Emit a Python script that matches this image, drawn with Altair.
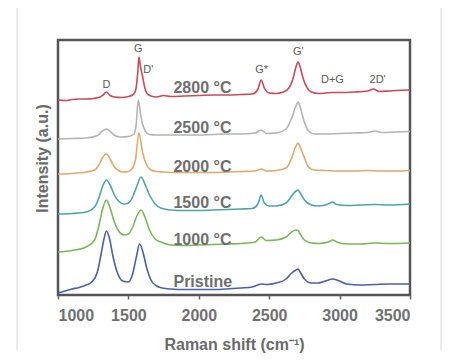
import altair as alt
import pandas as pd

# Bottom edge of plot area (page px) used to express intensities
BASE = 295

red_x = [1000,1050,1100,1150,1200,1250,1300,1320,1344,1370,1400,1450,1500,1530,1550,1565,1575,1585,1600,1615,1630,1660,1700,1750,1800,1900,2000,2100,2200,2300,2380,2420,2443,2465,2500,2550,2600,2640,2670,2690,2705,2720,2740,2770,2800,2850,2900,2950,3000,3100,3200,3240,3280,3350,3400,3500]
red_p = [100,100.5,99.5,99,99,98.5,97,95,92,95.5,97,97.5,96.5,95,91,75,57,66,76,87,93,96,97,95.5,96.5,96,95.5,95,95,94.5,94,89,80,88,93,93.5,92,88,78,67,62,67,78,88,92,93.5,93,92.5,92.5,92,91,89,91.5,91,90.5,90]

gray_x = [1000,1100,1200,1280,1315,1344,1375,1410,1450,1500,1540,1555,1570,1585,1600,1620,1650,1700,1800,1900,2000,2100,2200,2300,2400,2443,2480,2550,2620,2660,2690,2705,2720,2745,2780,2820,2900,3000,3100,3200,3250,3300,3400,3500]
gray_p = [139,138.5,138,135.5,131,129,132,136,137,136.5,134,125,100,113,124,131,134.5,135,135,135,135,134.5,134,134,133,130,133.5,133,129,118,106,102,107,120,131,134,134,133.5,133,132.5,131,132.5,132,131.5]

orange_x = [1000,1100,1200,1260,1290,1315,1344,1370,1400,1430,1460,1500,1530,1550,1575,1600,1630,1660,1700,1750,1850,2000,2100,2200,2300,2400,2443,2480,2550,2620,2660,2690,2705,2720,2750,2780,2820,2900,3000,3100,3200,3300,3400,3500]
orange_p = [174,173.5,172,170,165,158,154,159,167,170.5,172,171.5,168,160,133,152,165,170,171.5,172,172.5,172.5,172.5,172,171.5,171,169,171,170.5,168,158,146,143,147,158,167,170,170.5,171,171,170.5,171,171,170.5]

teal_x = [1000,1100,1200,1260,1290,1315,1344,1370,1400,1430,1470,1500,1530,1560,1590,1620,1650,1690,1730,1800,1900,2000,2100,2200,2300,2380,2420,2443,2465,2500,2550,2620,2660,2690,2705,2720,2750,2800,2850,2920,2950,2980,3050,3150,3250,3350,3500]
teal_p = [214,213.5,212,207,198,187,180,185,195,201,204,203,197,186,177,185,195,204,208,210,210.5,210.5,210,209.5,209,208.5,204,195,203,206,206,203,196,191,190,193,200,205,206,204,202,204.5,205.5,205,204.5,205,204]

green_x = [1000,1100,1200,1260,1290,1315,1344,1370,1400,1430,1470,1500,1530,1560,1590,1620,1650,1690,1730,1800,1900,2000,2100,2200,2300,2400,2443,2480,2550,2620,2660,2690,2705,2720,2750,2800,2850,2920,2950,2980,3050,3150,3250,3350,3500]
green_p = [252,250.5,247,240,226,210,200,208,222,231,235,234,227,216,210,218,230,239,242,245,245.5,245,244.5,244,243.5,242,237,240.5,240,237,232,230,230.5,234,240,243,243.5,242,240,242,244,244,243,243.5,243]

blue_x = [1000,1050,1100,1150,1200,1240,1280,1305,1325,1344,1365,1390,1420,1460,1500,1530,1555,1580,1605,1630,1660,1700,1740,1800,1900,2000,2100,2200,2300,2380,2420,2443,2480,2550,2620,2660,2690,2705,2720,2750,2800,2850,2900,2950,2990,3050,3150,3250,3350,3500]
blue_p = [293,291,289,287.5,285,282,272,255,240,231,238,256,272,281,282,274,258,244,253,268,280,286,288,289,289.5,289.5,289.5,289,288,287,285,284,284.5,283,279,273,270,269,272,279,283,283,281,279,280.5,284,285,284.5,284,284]

series_names = ["2800 °C", "2500 °C", "2000 °C", "1500 °C", "1000 °C", "Pristine"]
series_colors = ["#c94a5c", "#b4b4b4", "#dcac6c", "#4ea5a8", "#7cb65c", "#4b60a6"]
series_x = [red_x, gray_x, orange_x, teal_x, green_x, blue_x]
series_p = [red_p, gray_p, orange_p, teal_p, green_p, blue_p]

label_y_page = [88, 128, 167, 203, 240, 282]
label_x = 1820

peak_names = ["G", "D'", "D", "G*", "G'", "D+G", "2D'"]
peak_x = [1570, 1641, 1344, 2446, 2707, 2949, 3270]
peak_y_page = [49, 70, 85, 70, 52, 80, 80]

rows = []
for name, xs, ps in zip(series_names, series_x, series_p):
    for x, p in zip(xs, ps):
        rows.append({"series": name, "shift": x, "intensity": BASE - p})
df = pd.DataFrame(rows)

lab_df = pd.DataFrame({"text": series_names, "shift": [label_x] * 6,
                       "intensity": [BASE - v for v in label_y_page]})
peak_df = pd.DataFrame({"text": peak_names, "shift": peak_x,
                        "intensity": [BASE - v for v in peak_y_page]})

xscale = alt.Scale(domain=[1000, 3500], nice=False, zero=False)
yscale = alt.Scale(domain=[0, 255], nice=False, zero=False)

xaxis = alt.Axis(values=list(range(1000, 3501, 250)),
                 labelExpr="datum.value % 500 == 0 ? datum.label : ''",
                 format="d", grid=False, domain=False, ticks=True, tickSize=4,
                 tickColor="#666", tickWidth=1.5,
                 labelFont="Liberation Sans", labelFontSize=16, labelFontWeight="bold",
                 labelColor="#707070", labelPadding=8,
                 title="Raman shift (cm⁻¹)", titleFont="Liberation Sans",
                 titleFontSize=16, titleFontWeight="bold", titleColor="#6a6a6a",
                 titlePadding=13)
yaxis = alt.Axis(labels=False, ticks=False, grid=False, domain=False,
                 title="Intensity (a.u.)", titleFont="Liberation Sans",
                 titleFontSize=16, titleFontWeight="bold", titleColor="#6a6a6a",
                 titlePadding=8, titleY=118)

lines = alt.Chart(df).mark_line(strokeWidth=1.6, interpolate="monotone").encode(
    x=alt.X("shift:Q", scale=xscale, axis=xaxis),
    y=alt.Y("intensity:Q", scale=yscale, axis=yaxis),
    color=alt.Color("series:N", scale=alt.Scale(domain=series_names, range=series_colors), legend=None),
    detail="series:N",
)

labels = alt.Chart(lab_df).mark_text(align="left", baseline="middle", font="Liberation Sans",
                                     fontSize=16, fontWeight="bold", color="#6e6e6e").encode(
    x=alt.X("shift:Q", scale=xscale), y=alt.Y("intensity:Q", scale=yscale), text="text:N")

peaks = alt.Chart(peak_df).mark_text(align="center", baseline="middle", font="Liberation Sans",
                                     fontSize=11, color="#5a5a5a").encode(
    x=alt.X("shift:Q", scale=xscale), y=alt.Y("intensity:Q", scale=yscale), text="text:N")

# faint page frame lines of the screenshot
frame = alt.Chart(pd.DataFrame({"k": [0]})).mark_rule(color="#d8d8d8", strokeWidth=1).encode(
    x=alt.value(-41), y=alt.value(-40), y2=alt.value(310))
frame2 = alt.Chart(pd.DataFrame({"k": [0]})).mark_rule(color="#d8d8d8", strokeWidth=1).encode(
    x=alt.value(383), y=alt.value(-40), y2=alt.value(310))

chart = alt.layer(frame, frame2, lines, labels, peaks).properties(
    width=352, height=255,
    autosize=alt.AutoSizeParams(type="none"),
    padding={"left": 50, "top": 32, "right": 32, "bottom": 58},
    background="white",
).configure_view(stroke="#555555", strokeWidth=2.5)

chart.save("out.html", embed_options={"renderer": "svg", "actions": False})
